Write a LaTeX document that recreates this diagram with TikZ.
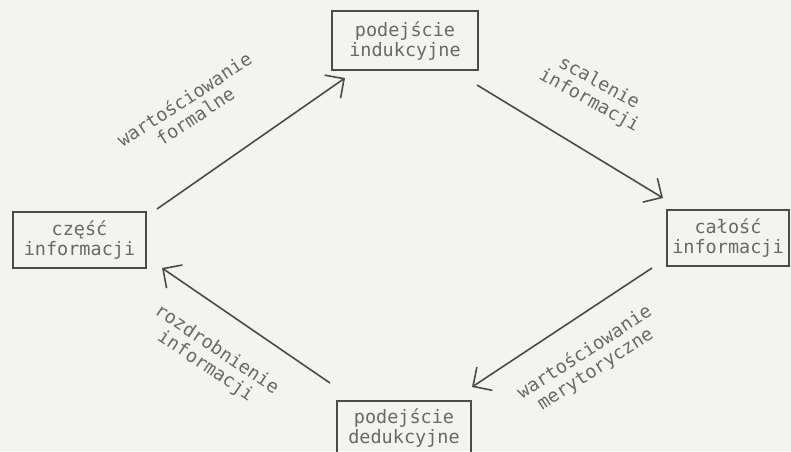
\documentclass[tikz,border=0pt]{standalone}
\usepackage{fontspec}
\setmonofont{DejaVu Sans Mono}
\usetikzlibrary{arrows.meta}
\definecolor{bg}{RGB}{243,243,239}
\definecolor{ink}{RGB}{75,75,75}
\definecolor{txt}{RGB}{105,105,105}
\begin{document}
\begin{tikzpicture}[x=1pt,y=-1pt,
  tt/.style={font=\ttfamily\fontsize{18.5}{20}\selectfont, text=txt},
  box/.style={tt, draw=ink, line width=1.7pt, rectangle, inner sep=0pt, align=center},
  lbl/.style={tt, align=center, inner sep=0pt},
  arr/.style={draw=ink, line width=1.6pt, -{Straight Barb[length=14pt,width=28pt]}}]
\fill[bg] (0,0) rectangle (791,451);
\useasboundingbox (0,0) rectangle (791,451);
% boxes
\node[box, minimum width=146pt, minimum height=59pt] (T) at (405,40.5) {podejście\\indukcyjne};
\node[box, minimum width=133pt, minimum height=56pt] (L) at (79.5,240) {część\\informacji};
\node[box, minimum width=122pt, minimum height=56pt] (R) at (728,238) {całość\\informacji};
\node[box, minimum width=134pt, minimum height=54pt] (B) at (404,428) {podejście\\dedukcyjne};
% arrow ends
\coordinate (a1s) at (157,209);
\coordinate (a1e) at (345,78);
\coordinate (a2s) at (477,85);
\coordinate (a2e) at (663,198);
\coordinate (a3s) at (652,268);
\coordinate (a3e) at (472,387);
\coordinate (a4s) at (330,383);
\coordinate (a4e) at (162,268);
\draw[arr] (a1s) -- (a1e);
\draw[arr] (a2s) -- (a2e);
\draw[arr] (a3s) -- (a3e);
\draw[arr] (a4s) -- (a4e);
% labels
\node[lbl, rotate=33] (l1) at (189.5,107.5) {wartościowanie\\formalne};
\node[lbl, rotate=-29] (l2) at (594,92) {scalenie\\informacji};
\node[lbl, rotate=33] (l3) at (590,361) {wartościowanie\\merytoryczne};
\node[lbl, rotate=-34] (l4) at (211,358) {rozdrobnienie\\informacji};
\end{tikzpicture}
\end{document}
